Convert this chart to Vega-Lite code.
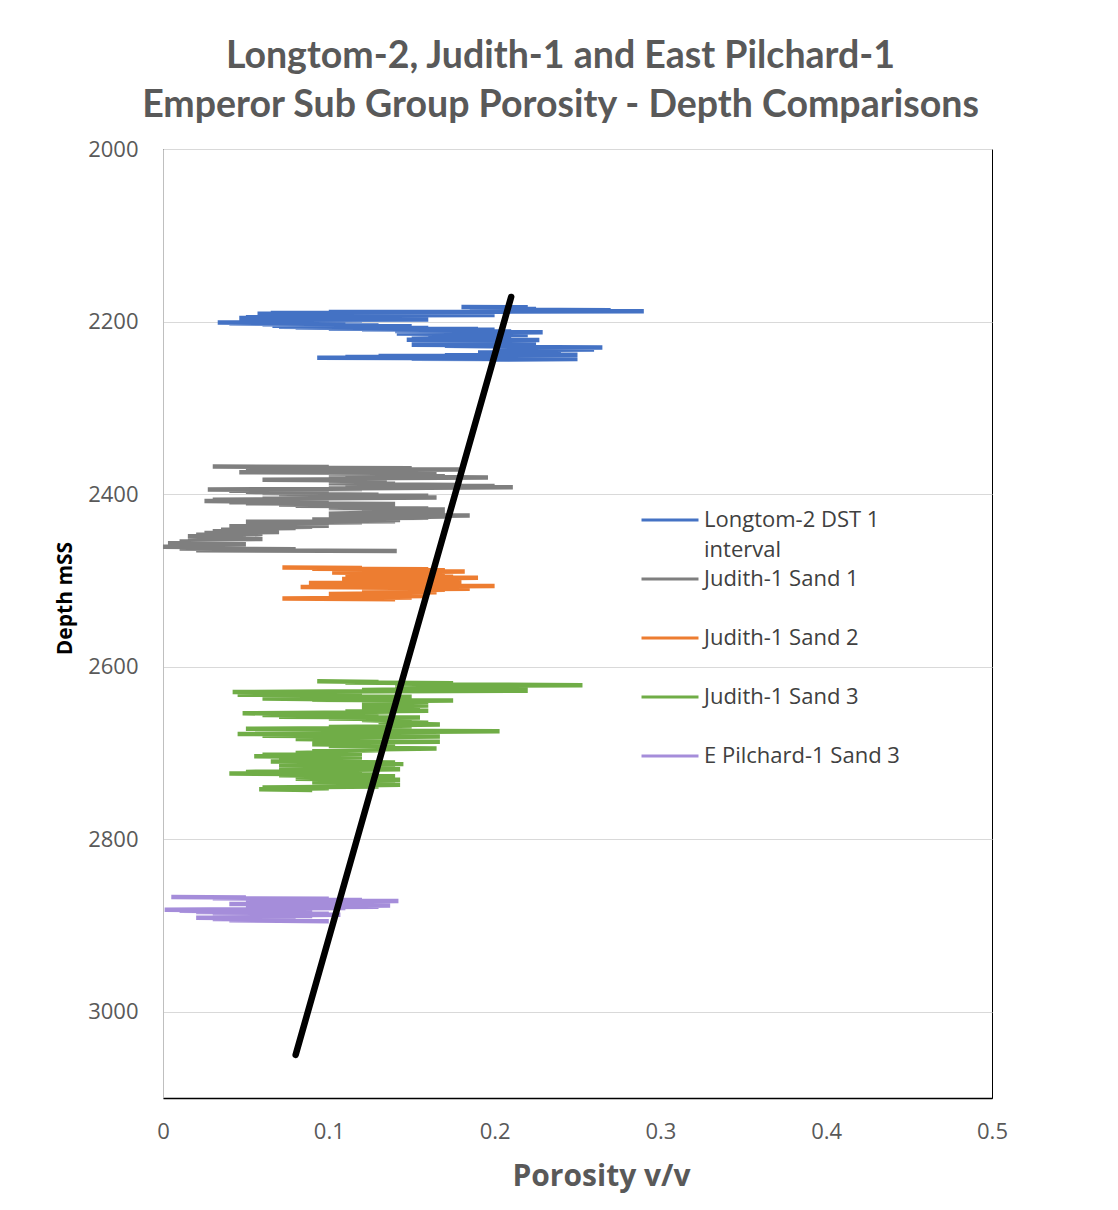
{
  "$schema": "https://vega.github.io/schema/vega-lite/v6.json",
  "width": 829,
  "height": 949,
  "autosize": "none",
  "padding": {"left": 163, "top": 149, "right": 126, "bottom": 112},
  "background": "white",
  "title": {
    "text": ["Longtom-2, Judith-1 and East Pilchard-1", "Emperor Sub Group Porosity - Depth Comparisons"],
    "font": "Lato",
    "fontSize": 37.5,
    "fontWeight": "bold",
    "color": "#595959",
    "lineHeight": 49,
    "anchor": "middle",
    "dx": -17,
    "offset": 14
  },
  "config": {
    "font": "Open Sans",
    "view": {"stroke": "#000", "strokeWidth": 1}
  },
  "encoding": {
    "x": {
      "field": "p", "type": "quantitative",
      "scale": {"domain": [0, 0.5], "nice": false, "zero": false},
      "axis": {
        "title": "Porosity v/v", "values": [0, 0.1, 0.2, 0.3, 0.4, 0.5], "format": "~g",
        "grid": false, "ticks": false, "domainColor": "#000", "domainWidth": 1.5, "labelFlush": false,
        "labelFontSize": 22, "labelColor": "#595959", "labelPadding": 23,
        "titleFontSize": 30, "titleFontWeight": "bold", "titleColor": "#595959", "titlePadding": 19,
        "titleX": 438, "titleAlign": "center"
      }
    },
    "y": {
      "field": "d", "type": "quantitative",
      "scale": {"domain": [2000, 3100], "reverse": true, "nice": false, "zero": false},
      "axis": {
        "title": "Depth mSS", "values": [2000, 2200, 2400, 2600, 2800, 3000], "format": "d",
        "grid": true, "gridColor": "#d9d9d9", "ticks": false, "domainColor": "#bfbfbf",
        "labelFontSize": 22, "labelColor": "#595959", "labelPadding": 25,
        "titleFontSize": 21, "titleFontWeight": "bold", "titleColor": "#000",
        "titleX": -88, "titleY": 449
      }
    },
    "order": {"field": "d", "type": "quantitative"}
  },
  "layer": [
    {
      "data": {"values": [
        {"d":2183,"p":0.18},{"d":2183.5,"p":0.22},{"d":2184,"p":0.19},{"d":2184.5,"p":0.215},{"d":2185,"p":0.185},{"d":2185.5,"p":0.225},{"d":2186,"p":0.19},{"d":2187,"p":0.27},{"d":2187.5,"p":0.2},{"d":2188,"p":0.29},{"d":2188.5,"p":0.21},{"d":2189,"p":0.1},{"d":2189.5,"p":0.2},{"d":2190,"p":0.065},{"d":2190.5,"p":0.15},{"d":2191,"p":0.057},{"d":2191.5,"p":0.19},{"d":2192,"p":0.08},{"d":2192.5,"p":0.2},{"d":2193,"p":0.07},{"d":2193.5,"p":0.14},{"d":2194,"p":0.06},{"d":2194.5,"p":0.12},{"d":2195,"p":0.05},{"d":2195.5,"p":0.1},{"d":2196,"p":0.046},{"d":2196.5,"p":0.13},{"d":2197,"p":0.07},{"d":2197.5,"p":0.16},{"d":2198,"p":0.08},{"d":2198.5,"p":0.12},{"d":2199,"p":0.06},{"d":2199.5,"p":0.1},{"d":2200,"p":0.05},{"d":2200.5,"p":0.09},{"d":2201,"p":0.033},{"d":2201.5,"p":0.07},{"d":2202,"p":0.04},{"d":2202.5,"p":0.09},{"d":2203,"p":0.06},{"d":2203.5,"p":0.11},{"d":2204,"p":0.07},{"d":2204.5,"p":0.13},{"d":2205,"p":0.066},{"d":2205.5,"p":0.15},{"d":2206,"p":0.07},{"d":2206.5,"p":0.12},{"d":2207,"p":0.08},{"d":2207.5,"p":0.16},{"d":2208,"p":0.1},{"d":2208.5,"p":0.19},{"d":2209,"p":0.12},{"d":2209.5,"p":0.2},{"d":2210,"p":0.14},{"d":2210.5,"p":0.18},{"d":2211,"p":0.14},{"d":2211.5,"p":0.21},{"d":2212,"p":0.16},{"d":2212.5,"p":0.229},{"d":2213,"p":0.15},{"d":2213.5,"p":0.2},{"d":2214,"p":0.141},{"d":2214.5,"p":0.19},{"d":2215,"p":0.16},{"d":2215.5,"p":0.22},{"d":2216,"p":0.17},{"d":2217,"p":0.2},{"d":2217.5,"p":0.16},{"d":2218,"p":0.21},{"d":2219,"p":0.18},{"d":2220,"p":0.15},{"d":2220.5,"p":0.21},{"d":2221,"p":0.147},{"d":2221.5,"p":0.227},{"d":2222,"p":0.16},{"d":2222.5,"p":0.2},{"d":2223,"p":0.15},{"d":2223.5,"p":0.22},{"d":2224,"p":0.17},{"d":2225,"p":0.225},{"d":2225.5,"p":0.16},{"d":2226,"p":0.2},{"d":2227,"p":0.15},{"d":2227.5,"p":0.21},{"d":2228,"p":0.17},{"d":2229,"p":0.22},{"d":2229.5,"p":0.2},{"d":2230,"p":0.265},{"d":2230.5,"p":0.22},{"d":2231,"p":0.25},{"d":2232,"p":0.2},{"d":2232.5,"p":0.26},{"d":2233,"p":0.21},{"d":2233.5,"p":0.24},{"d":2234,"p":0.2},{"d":2235,"p":0.23},{"d":2236,"p":0.19},{"d":2237,"p":0.22},{"d":2238,"p":0.2},{"d":2238.5,"p":0.25},{"d":2239,"p":0.17},{"d":2239.5,"p":0.23},{"d":2240,"p":0.13},{"d":2240.5,"p":0.22},{"d":2241,"p":0.11},{"d":2241.5,"p":0.24},{"d":2242,"p":0.093},{"d":2242.5,"p":0.2},{"d":2243,"p":0.15},{"d":2243.5,"p":0.25},{"d":2244,"p":0.2}
      ]},
      "mark": {"type": "line", "strokeWidth": 4.5},
      "encoding": {"color": {"datum": "Longtom-2 DST 1 interval"}}
    },
    {
      "data": {"values": [
        {"d":2368,"p":0.03},{"d":2368.7,"p":0.1},{"d":2369.4,"p":0.05},{"d":2370,"p":0.15},{"d":2370.7,"p":0.08},{"d":2371.4,"p":0.179},{"d":2372,"p":0.12},{"d":2372.7,"p":0.15},{"d":2373.4,"p":0.06},{"d":2374,"p":0.12},{"d":2374.7,"p":0.046},{"d":2375.4,"p":0.13},{"d":2376,"p":0.1},{"d":2376.7,"p":0.165},{"d":2377.4,"p":0.11},{"d":2378,"p":0.14},{"d":2378.7,"p":0.11},{"d":2379.4,"p":0.17},{"d":2380,"p":0.13},{"d":2380.7,"p":0.196},{"d":2381.4,"p":0.14},{"d":2382,"p":0.1},{"d":2382.7,"p":0.13},{"d":2383.4,"p":0.06},{"d":2384,"p":0.11},{"d":2384.7,"p":0.1},{"d":2385.4,"p":0.135},{"d":2386,"p":0.105},{"d":2386.7,"p":0.13},{"d":2387.4,"p":0.1},{"d":2388,"p":0.14},{"d":2388.7,"p":0.11},{"d":2389.4,"p":0.18},{"d":2390,"p":0.13},{"d":2390.7,"p":0.2},{"d":2391.4,"p":0.14},{"d":2392,"p":0.211},{"d":2392.7,"p":0.16},{"d":2393.4,"p":0.1},{"d":2394,"p":0.12},{"d":2394.7,"p":0.027},{"d":2395.4,"p":0.08},{"d":2396,"p":0.04},{"d":2396.7,"p":0.09},{"d":2397.4,"p":0.05},{"d":2398,"p":0.1},{"d":2398.7,"p":0.06},{"d":2399.4,"p":0.095},{"d":2400,"p":0.07},{"d":2400.7,"p":0.13},{"d":2401.4,"p":0.08},{"d":2402,"p":0.16},{"d":2402.7,"p":0.1},{"d":2403.4,"p":0.12},{"d":2404,"p":0.165},{"d":2404.7,"p":0.1},{"d":2405.4,"p":0.06},{"d":2406,"p":0.09},{"d":2406.7,"p":0.03},{"d":2407.4,"p":0.08},{"d":2408,"p":0.025},{"d":2408.7,"p":0.07},{"d":2409.4,"p":0.04},{"d":2410,"p":0.1},{"d":2410.7,"p":0.05},{"d":2411.4,"p":0.14},{"d":2412,"p":0.07},{"d":2412.7,"p":0.11},{"d":2413.4,"p":0.08},{"d":2414,"p":0.14},{"d":2414.7,"p":0.1},{"d":2415.4,"p":0.13},{"d":2416,"p":0.1},{"d":2416.7,"p":0.16},{"d":2417.4,"p":0.12},{"d":2418,"p":0.17},{"d":2418.7,"p":0.13},{"d":2419.4,"p":0.166},{"d":2420,"p":0.14},{"d":2420.7,"p":0.17},{"d":2421.4,"p":0.15},{"d":2422,"p":0.12},{"d":2422.7,"p":0.1},{"d":2423.4,"p":0.16},{"d":2424,"p":0.13},{"d":2424.7,"p":0.185},{"d":2425.4,"p":0.15},{"d":2426,"p":0.17},{"d":2426.7,"p":0.14},{"d":2427.4,"p":0.16},{"d":2428,"p":0.1},{"d":2428.7,"p":0.13},{"d":2429.4,"p":0.09},{"d":2430,"p":0.143},{"d":2430.7,"p":0.1},{"d":2431.4,"p":0.14},{"d":2432,"p":0.05},{"d":2432.7,"p":0.12},{"d":2433.4,"p":0.06},{"d":2434,"p":0.1},{"d":2434.7,"p":0.05},{"d":2435.4,"p":0.09},{"d":2436,"p":0.06},{"d":2436.7,"p":0.1},{"d":2437.4,"p":0.04},{"d":2438,"p":0.09},{"d":2438.7,"p":0.05},{"d":2439.4,"p":0.08},{"d":2440,"p":0.04},{"d":2440.7,"p":0.07},{"d":2441.4,"p":0.035},{"d":2442,"p":0.06},{"d":2443,"p":0.03},{"d":2444,"p":0.07},{"d":2445,"p":0.025},{"d":2446,"p":0.06},{"d":2447,"p":0.02},{"d":2448,"p":0.05},{"d":2449,"p":0.015},{"d":2450,"p":0.04},{"d":2451,"p":0.02},{"d":2452,"p":0.06},{"d":2453,"p":0.015},{"d":2454,"p":0.04},{"d":2455,"p":0.01},{"d":2456,"p":0.03},{"d":2457,"p":0.003},{"d":2458,"p":0.05},{"d":2459,"p":0.005},{"d":2460,"p":0.03},{"d":2461,"p":0.0},{"d":2462,"p":0.048},{"d":2463,"p":0.01},{"d":2464,"p":0.08},{"d":2465,"p":0.02},{"d":2466,"p":0.141}
      ]},
      "mark": {"type": "line", "strokeWidth": 4.5},
      "encoding": {"color": {"datum": "Judith-1 Sand 1"}}
    },
    {
      "data": {"values": [
        {"d":2485,"p":0.072},{"d":2485.7,"p":0.12},{"d":2486.4,"p":0.09},{"d":2487,"p":0.16},{"d":2487.7,"p":0.13},{"d":2488.4,"p":0.17},{"d":2489,"p":0.14},{"d":2489.7,"p":0.182},{"d":2490.4,"p":0.15},{"d":2491,"p":0.102},{"d":2491.7,"p":0.14},{"d":2492.4,"p":0.12},{"d":2493,"p":0.16},{"d":2493.7,"p":0.11},{"d":2494.4,"p":0.17},{"d":2495,"p":0.13},{"d":2495.7,"p":0.175},{"d":2496.4,"p":0.14},{"d":2497,"p":0.19},{"d":2497.7,"p":0.15},{"d":2498.4,"p":0.108},{"d":2499,"p":0.15},{"d":2499.7,"p":0.13},{"d":2500.4,"p":0.17},{"d":2501,"p":0.14},{"d":2501.7,"p":0.18},{"d":2502.4,"p":0.15},{"d":2503,"p":0.088},{"d":2503.7,"p":0.13},{"d":2504.4,"p":0.1},{"d":2505,"p":0.16},{"d":2505.7,"p":0.13},{"d":2506.4,"p":0.2},{"d":2507,"p":0.15},{"d":2507.7,"p":0.083},{"d":2508.4,"p":0.14},{"d":2509,"p":0.12},{"d":2509.7,"p":0.185},{"d":2510.4,"p":0.14},{"d":2511,"p":0.17},{"d":2511.7,"p":0.13},{"d":2512.4,"p":0.16},{"d":2513,"p":0.12},{"d":2513.7,"p":0.165},{"d":2514.4,"p":0.13},{"d":2515,"p":0.15},{"d":2515.7,"p":0.1},{"d":2516.4,"p":0.15},{"d":2517,"p":0.12},{"d":2518,"p":0.16},{"d":2519,"p":0.1},{"d":2520,"p":0.15},{"d":2521,"p":0.072},{"d":2522,"p":0.14}
      ]},
      "mark": {"type": "line", "strokeWidth": 4.5},
      "encoding": {"color": {"datum": "Judith-1 Sand 2"}}
    },
    {
      "data": {"values": [
        {"d":2617,"p":0.093},{"d":2617.8,"p":0.13},{"d":2618.5,"p":0.11},{"d":2619.3,"p":0.175},{"d":2620,"p":0.14},{"d":2620.8,"p":0.17},{"d":2621.5,"p":0.253},{"d":2622.3,"p":0.18},{"d":2623,"p":0.22},{"d":2623.8,"p":0.15},{"d":2624.5,"p":0.19},{"d":2625.3,"p":0.14},{"d":2626,"p":0.17},{"d":2627,"p":0.12},{"d":2628,"p":0.22},{"d":2628.8,"p":0.1},{"d":2629.5,"p":0.042},{"d":2630.3,"p":0.08},{"d":2631,"p":0.05},{"d":2631.8,"p":0.1},{"d":2632.5,"p":0.045},{"d":2633.3,"p":0.12},{"d":2634,"p":0.06},{"d":2634.8,"p":0.15},{"d":2635.5,"p":0.08},{"d":2636.3,"p":0.12},{"d":2637,"p":0.06},{"d":2637.8,"p":0.1},{"d":2638.5,"p":0.09},{"d":2639.3,"p":0.175},{"d":2640,"p":0.12},{"d":2641,"p":0.16},{"d":2642,"p":0.13},{"d":2643,"p":0.15},{"d":2644,"p":0.12},{"d":2645,"p":0.16},{"d":2646,"p":0.13},{"d":2647,"p":0.155},{"d":2648,"p":0.12},{"d":2649,"p":0.15},{"d":2650,"p":0.13},{"d":2651,"p":0.16},{"d":2652,"p":0.11},{"d":2653,"p":0.14},{"d":2654,"p":0.048},{"d":2655,"p":0.09},{"d":2656,"p":0.06},{"d":2657,"p":0.13},{"d":2658,"p":0.07},{"d":2659,"p":0.155},{"d":2660,"p":0.1},{"d":2661,"p":0.15},{"d":2662,"p":0.12},{"d":2663,"p":0.14},{"d":2664,"p":0.13},{"d":2665,"p":0.16},{"d":2666,"p":0.14},{"d":2667,"p":0.167},{"d":2668,"p":0.13},{"d":2669,"p":0.15},{"d":2670,"p":0.1},{"d":2671,"p":0.14},{"d":2672,"p":0.05},{"d":2673,"p":0.12},{"d":2674,"p":0.08},{"d":2675,"p":0.203},{"d":2676,"p":0.12},{"d":2677,"p":0.16},{"d":2678,"p":0.045},{"d":2679,"p":0.14},{"d":2680,"p":0.06},{"d":2681,"p":0.167},{"d":2682,"p":0.1},{"d":2683,"p":0.15},{"d":2684,"p":0.08},{"d":2685,"p":0.13},{"d":2686,"p":0.09},{"d":2687,"p":0.167},{"d":2688,"p":0.1},{"d":2689,"p":0.13},{"d":2690,"p":0.09},{"d":2691,"p":0.14},{"d":2692,"p":0.1},{"d":2693,"p":0.13},{"d":2694,"p":0.11},{"d":2695,"p":0.165},{"d":2696,"p":0.12},{"d":2697,"p":0.13},{"d":2698,"p":0.09},{"d":2699,"p":0.11},{"d":2700,"p":0.08},{"d":2701,"p":0.12},{"d":2702,"p":0.06},{"d":2703,"p":0.11},{"d":2704,"p":0.055},{"d":2705,"p":0.12},{"d":2706,"p":0.08},{"d":2707,"p":0.1},{"d":2708,"p":0.07},{"d":2709,"p":0.12},{"d":2710,"p":0.065},{"d":2711,"p":0.14},{"d":2712,"p":0.08},{"d":2713,"p":0.145},{"d":2714,"p":0.07},{"d":2715,"p":0.12},{"d":2716,"p":0.08},{"d":2717,"p":0.14},{"d":2718,"p":0.07},{"d":2719,"p":0.143},{"d":2720,"p":0.09},{"d":2721,"p":0.12},{"d":2722,"p":0.05},{"d":2723,"p":0.1},{"d":2724,"p":0.04},{"d":2725,"p":0.13},{"d":2726,"p":0.07},{"d":2727,"p":0.14},{"d":2728,"p":0.08},{"d":2729,"p":0.12},{"d":2730,"p":0.08},{"d":2731,"p":0.143},{"d":2732,"p":0.1},{"d":2733,"p":0.13},{"d":2734,"p":0.09},{"d":2735,"p":0.14},{"d":2736,"p":0.1},{"d":2737,"p":0.143},{"d":2738,"p":0.1},{"d":2739,"p":0.13},{"d":2740,"p":0.06},{"d":2741,"p":0.1},{"d":2742,"p":0.058},{"d":2743,"p":0.09}
      ]},
      "mark": {"type": "line", "strokeWidth": 4.5},
      "encoding": {"color": {"datum": "Judith-1 Sand 3"}}
    },
    {
      "data": {"values": [
        {"d":2867,"p":0.005},{"d":2867.7,"p":0.05},{"d":2868.4,"p":0.03},{"d":2869,"p":0.1},{"d":2869.7,"p":0.06},{"d":2870.4,"p":0.12},{"d":2871,"p":0.08},{"d":2871.7,"p":0.142},{"d":2872.4,"p":0.09},{"d":2873,"p":0.12},{"d":2873.7,"p":0.05},{"d":2874.4,"p":0.1},{"d":2875,"p":0.04},{"d":2875.7,"p":0.09},{"d":2876.4,"p":0.074},{"d":2877,"p":0.137},{"d":2877.7,"p":0.09},{"d":2878.4,"p":0.13},{"d":2879,"p":0.07},{"d":2879.7,"p":0.11},{"d":2880.4,"p":0.05},{"d":2881,"p":0.08},{"d":2881.7,"p":0.001},{"d":2882.4,"p":0.04},{"d":2883,"p":0.01},{"d":2883.7,"p":0.07},{"d":2884.4,"p":0.02},{"d":2885,"p":0.09},{"d":2885.7,"p":0.03},{"d":2886.4,"p":0.1},{"d":2887,"p":0.04},{"d":2887.7,"p":0.107},{"d":2888.4,"p":0.05},{"d":2889,"p":0.09},{"d":2889.7,"p":0.03},{"d":2890.4,"p":0.07},{"d":2891,"p":0.02},{"d":2891.7,"p":0.06},{"d":2892.4,"p":0.03},{"d":2893,"p":0.08},{"d":2894,"p":0.04},{"d":2895,"p":0.1}
      ]},
      "mark": {"type": "line", "strokeWidth": 4.5},
      "encoding": {
        "color": {
          "datum": "E Pilchard-1 Sand 3",
          "scale": {
            "domain": ["Longtom-2 DST 1 interval", "Judith-1 Sand 1", "Judith-1 Sand 2", "Judith-1 Sand 3", "E Pilchard-1 Sand 3"],
            "range": ["#4472C4", "#7F7F7F", "#ED7D31", "#70AD47", "#A58DDA"]
          },
          "legend": {
            "title": null,
            "orient": "none",
            "legendX": 489,
            "legendY": 353,
            "symbolType": "M-1.727,0H1.727",
            "symbolSize": 1089,
            "symbolStrokeWidth": 3,
            "symbolFillColor": "transparent",
            "labelFont": "Open Sans",
            "labelFontSize": 22,
            "labelColor": "#404040",
            "labelOffset": 16,
            "labelLimit": 400,
            "rowPadding": 0,
            "labelExpr": "datum.label == 'Longtom-2 DST 1 interval' ? ['Longtom-2 DST 1', 'interval'] : [datum.label, '']",
            "encode": {"labels": {"update": {"lineHeight": {"value": 30}}}}
          }
        }
      }
    },
    {
      "data": {"values": [{"d": 2171.5, "p": 0.21}, {"d": 3050, "p": 0.08}]},
      "mark": {"type": "line", "strokeWidth": 6.5, "color": "#000", "strokeCap": "round"},
      "encoding": {}
    }
  ]
}
